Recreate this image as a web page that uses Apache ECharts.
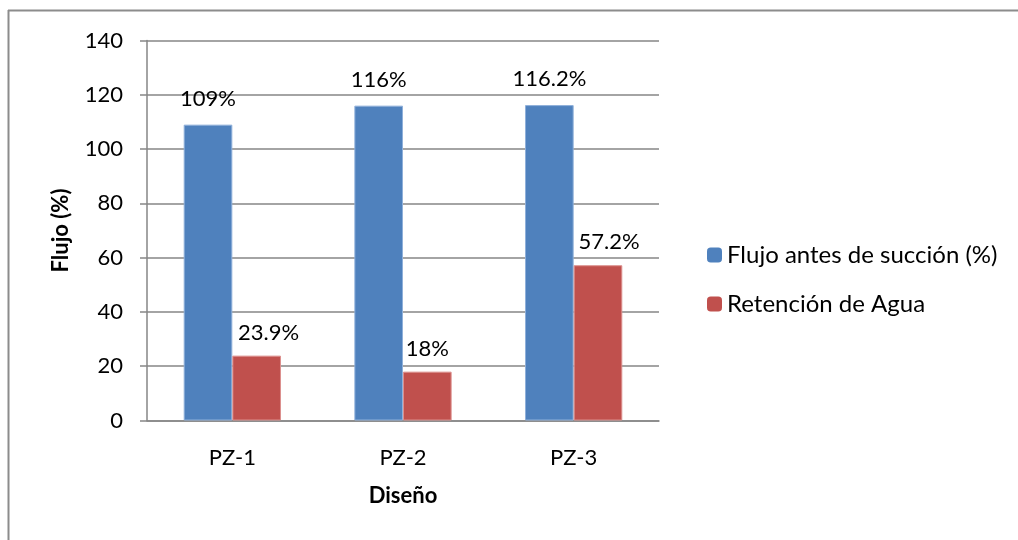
<!DOCTYPE html>
<html>
<head>
<meta charset="utf-8">
<script src="https://cdn.jsdelivr.net/npm/echarts@6/dist/echarts.min.js"></script>
<style>
  html, body { margin: 0; padding: 0; background: #fff; }
  #chart { width: 1018px; height: 540px; }
</style>
</head>
<body>
<div id="chart"></div>
<script>
// Design categories and measured values (%)
const categories = ['PZ-1', 'PZ-2', 'PZ-3'];
const flujoAntes = [109, 116, 116.2];
const retencionAgua = [23.9, 18, 57.2];
const seriesNames = ['Flujo antes de succión (%)', 'Retención de Agua'];

const FONT = 'Lato, "Open Sans", sans-serif';
const GRID_GRAY = '#868686';

const chart = echarts.init(document.getElementById('chart'), null, { renderer: 'canvas' });

const pctLabel = (dist) => ({
  show: true,
  position: 'top',
  distance: dist,
  fontFamily: FONT,
  fontSize: 22,
  color: '#000',
  formatter: (p) => p.value + '%'
});

// a few value labels sit nudged to the right of their bar
const shiftedLabels = { 0: [12, 0], 2: [11, 0] };
const retencionData = retencionAgua.map((v, i) =>
  shiftedLabels[i] ? { value: v, label: { offset: shiftedLabels[i] } } : v
);

chart.setOption({
  animation: false,
  backgroundColor: '#fff',
  graphic: [
    // chart-area frame (top and left edges)
    { type: 'line', shape: { x1: 8.5, y1: 10, x2: 8.5, y2: 540 }, style: { stroke: '#8c8c8c', lineWidth: 2 } },
    { type: 'line', shape: { x1: 8, y1: 10.5, x2: 1018, y2: 10.5 }, style: { stroke: '#8c8c8c', lineWidth: 2 } }
  ],
  grid: { left: 147, right: 359, top: 40.5, bottom: 119.5, containLabel: false },
  legend: {
    orient: 'vertical',
    left: 702,
    top: 238,
    itemWidth: 15,
    itemHeight: 15,
    itemGap: 25,
    itemStyle: { borderWidth: 0 },
    textStyle: { fontFamily: FONT, fontSize: 24, color: '#000' },
    data: seriesNames
  },
  xAxis: {
    type: 'category',
    data: categories,
    name: 'Diseño',
    nameLocation: 'middle',
    nameGap: 64,
    nameTextStyle: { fontFamily: FONT, fontSize: 22, fontWeight: 'bold', color: '#000' },
    axisLine: { show: true, lineStyle: { color: GRID_GRAY, width: 1.5 } },
    axisTick: { show: false },
    axisLabel: { fontFamily: FONT, fontSize: 22, color: '#000', margin: 26 }
  },
  yAxis: {
    type: 'value',
    min: 0,
    max: 140,
    interval: 20,
    name: 'Flujo (%)',
    nameLocation: 'middle',
    nameGap: 75,
    nameTextStyle: { fontFamily: FONT, fontSize: 22, fontWeight: 'bold', color: '#000' },
    axisLine: { show: true, lineStyle: { color: GRID_GRAY, width: 1.5 } },
    axisTick: { show: true, length: 7, lineStyle: { color: GRID_GRAY, width: 1.5 } },
    axisLabel: { fontFamily: FONT, fontSize: 22, color: '#000', margin: 24 },
    splitLine: { show: true, lineStyle: { color: GRID_GRAY, width: 1.5 } }
  },
  series: [
    {
      name: seriesNames[0],
      type: 'bar',
      data: flujoAntes,
      barGap: '0%',
      barCategoryGap: '43%',
      itemStyle: { color: '#4F81BD', borderColor: '#8fb0da', borderWidth: 1 },
      label: pctLabel(15)
    },
    {
      name: seriesNames[1],
      type: 'bar',
      data: retencionData,
      barGap: '0%',
      barCategoryGap: '43%',
      itemStyle: { color: '#C0504D', borderColor: '#dc8f8d', borderWidth: 1 },
      label: pctLabel(12)
    }
  ]
});
</script>
</body>
</html>
